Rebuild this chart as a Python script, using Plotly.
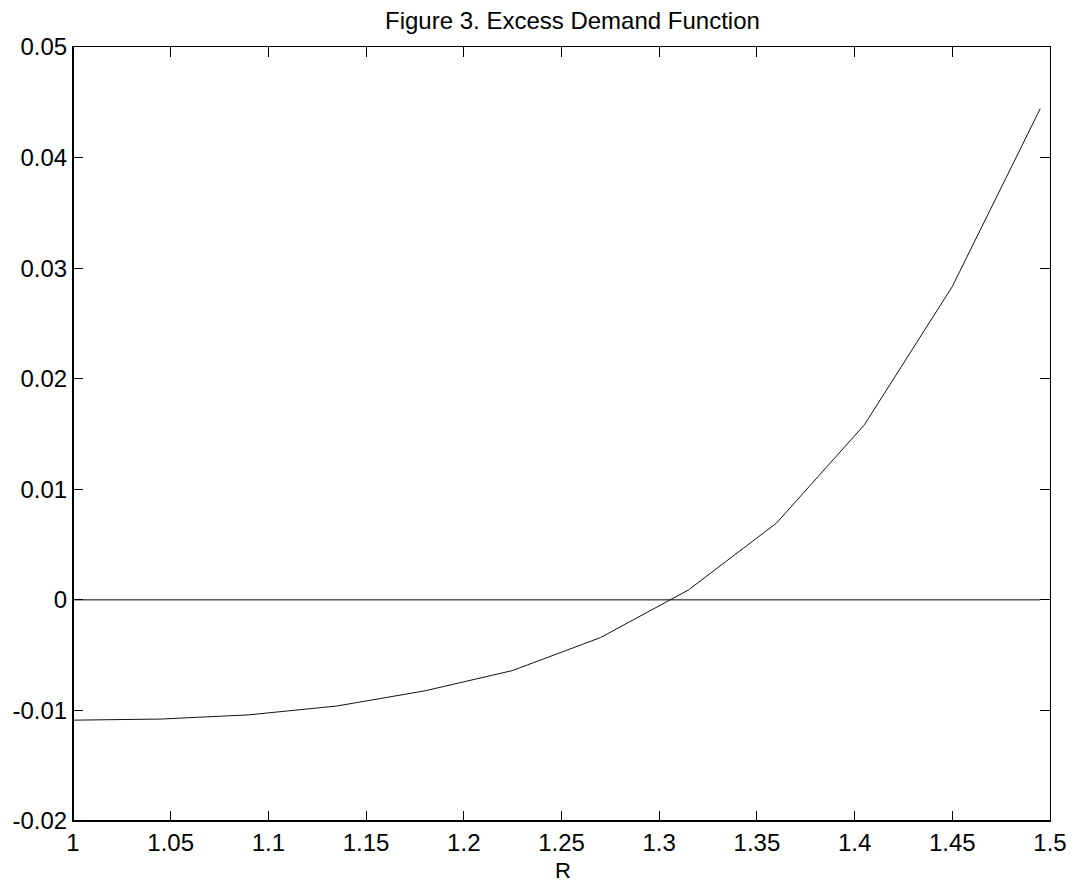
import plotly.graph_objects as go

R = [1.000, 1.045, 1.090, 1.135, 1.180, 1.225, 1.270, 1.315, 1.360, 1.405, 1.450, 1.495]
excess_demand = [-0.01088, -0.01078, -0.01040, -0.00960, -0.00823, -0.00639,
                 -0.00341, 0.00090, 0.00694, 0.01583, 0.02834, 0.04442]
zero_line = [0.0] * len(R)

x_ticks = [1, 1.05, 1.1, 1.15, 1.2, 1.25, 1.3, 1.35, 1.4, 1.45, 1.5]
x_tick_labels = ["1", "1.05", "1.1", "1.15", "1.2", "1.25", "1.3", "1.35", "1.4", "1.45", "1.5"]
y_ticks = [-0.02, -0.01, 0, 0.01, 0.02, 0.03, 0.04, 0.05]
y_tick_labels = ["-0.02", "-0.01", "0", "0.01", "0.02", "0.03", "0.04", "0.05"]

FONT = "Liberation Sans, Arial, sans-serif"

fig = go.Figure()
fig.add_trace(go.Scatter(x=R, y=excess_demand, mode="lines",
                         line=dict(color="#111111", width=1), showlegend=False))
fig.add_trace(go.Scatter(x=[R[0], R[-1]], y=[zero_line[0], zero_line[-1]], mode="lines",
                         line=dict(color="#000000", width=1), showlegend=False))

fig.update_layout(
    width=1082, height=882,
    margin=dict(l=70, r=32, t=47, b=61),
    paper_bgcolor="white", plot_bgcolor="white",
    font=dict(family=FONT, size=24, color="black"),
    showlegend=False,
)
fig.update_xaxes(range=[1, 1.5], tickvals=x_ticks, ticktext=x_tick_labels,
                 ticks="inside", ticklen=10, tickwidth=1, tickcolor="black",
                 showline=True, linecolor="black", linewidth=1, mirror="ticks",
                 showgrid=False, zeroline=False, tickfont=dict(size=24))
fig.update_yaxes(range=[-0.02, 0.05], tickvals=y_ticks, ticktext=y_tick_labels,
                 ticks="inside", ticklen=10, tickwidth=1, tickcolor="black",
                 showline=True, linecolor="black", linewidth=1, mirror="ticks",
                 showgrid=False, zeroline=False, tickfont=dict(size=24),
                 ticklabelstandoff=0)
# thicker left and bottom frame lines
fig.add_shape(type="line", xref="paper", yref="paper", x0=0, x1=0, y0=0, y1=1,
              line=dict(color="black", width=2))
fig.add_shape(type="line", xref="paper", yref="paper", x0=0, x1=1, y0=0, y1=0,
              line=dict(color="black", width=2))

fig.add_annotation(text="Figure 3. Excess Demand Function", xref="paper", yref="paper",
                   x=0.511, y=1, yanchor="bottom", yshift=11, showarrow=False,
                   font=dict(family=FONT, size=24, color="black"))
fig.add_annotation(text="R", xref="paper", yref="paper", x=0.502, y=-0.0635,
                   yanchor="middle", showarrow=False,
                   font=dict(family=FONT, size=22, color="black"))

fig.write_html("out.html")
